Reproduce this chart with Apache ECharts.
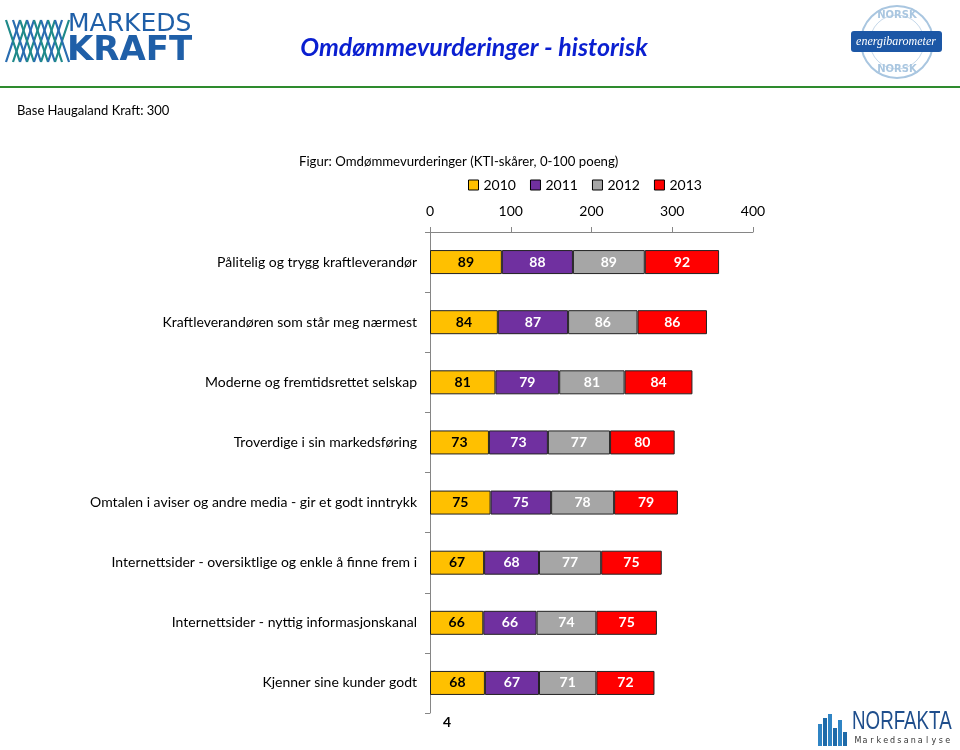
<!DOCTYPE html>
<html><head><meta charset="utf-8">
<script src="https://cdn.jsdelivr.net/npm/echarts@6/dist/echarts.min.js"></script>
<style>html,body{margin:0;padding:0;background:#fff}#c{width:960px;height:750px}</style>
</head><body><div id="c"></div>
<script>
const categories = [
  "Pålitelig og trygg kraftleverandør",
  "Kraftleverandøren som står meg nærmest",
  "Moderne og fremtidsrettet selskap",
  "Troverdige i sin markedsføring",
  "Omtalen i aviser og andre media - gir et godt inntrykk",
  "Internettsider - oversiktlige og enkle å finne frem i",
  "Internettsider - nyttig informasjonskanal",
  "Kjenner sine kunder godt"
];
const seriesNames = ["2010", "2011", "2012", "2013"];
const v2010 = [89, 84, 81, 73, 75, 67, 66, 68];
const v2011 = [88, 87, 79, 73, 75, 68, 66, 67];
const v2012 = [89, 86, 81, 77, 78, 77, 74, 71];
const v2013 = [92, 86, 84, 80, 79, 75, 75, 72];
const xTicks = [0, 100, 200, 300, 400];

const colors = ["#FFC000", "#7030A0", "#A6A6A6", "#FF0000"];
const labelColors = ["#000000", "#ffffff", "#ffffff", "#ffffff"];
const values = [v2010, v2011, v2012, v2013];
const FONT = "Lato, 'Open Sans', sans-serif";

const chart = echarts.init(document.getElementById('c'), null, {renderer: 'canvas'});

// Logo graphics
const logoLines = [];
for (let i = 0; i < 8; i++) {
  const x0 = 6 + i * 7;
  logoLines.push({type:'line', shape:{x1:x0, y1:62, x2:x0+14, y2:20}, style:{stroke: i%2? '#1f8a8a':'#2a6db0', lineWidth:2.2}});
  logoLines.push({type:'line', shape:{x1:x0+14, y1:62, x2:x0, y2:20}, style:{stroke: i%2? '#2a6db0':'#1f8a8a', lineWidth:2.2}});
}

const norfaktaBars = [];
const bh = [22, 28, 32, 18, 26, 14];
for (let i = 0; i < bh.length; i++) {
  norfaktaBars.push({type:'rect', shape:{x:818 + i*5, y:746 - bh[i], width:4, height:bh[i]}, style:{fill: i%2 ? '#1e6aa8' : '#2f84c4'}});
}
const subLetters = [];
const sub = 'Markedsanalyse';
for (let i = 0; i < sub.length; i++) {
  subLetters.push({type:'text', style:{x: 858 + i*6.9, y: 741, text: sub[i], fill:'#333', font:'8px "DejaVu Sans", sans-serif', align:'center', verticalAlign:'middle'}});
}

chart.setOption({
  animation: false,
  textStyle: {fontFamily: FONT},
  color: colors,
  title: [
    {text: 'Figur: Omdømmevurderinger (KTI-skårer, 0-100 poeng)', left: 294, top: 150,
     textStyle: {fontFamily: FONT, fontSize: 13.2, fontWeight: 'normal', color: '#000'}},
  ],
  legend: {
    data: seriesNames, top: 173, left: 463,
    itemWidth: 10, itemHeight: 10, itemGap: 14,
    icon: 'rect',
    textStyle: {fontFamily: FONT, fontSize: 14, color: '#000'},
    itemStyle: {borderColor: '#000', borderWidth: 1}
  },
  grid: {left: 430, right: 207, top: 232, bottom: 37, containLabel: false},
  xAxis: {
    type: 'value', position: 'top', min: 0, max: 400, interval: 100,
    axisLine: {show: true, lineStyle: {color: '#868686'}},
    axisTick: {show: true, length: 5, lineStyle: {color: '#868686'}},
    splitLine: {show: false},
    axisLabel: {fontFamily: FONT, fontSize: 14, color: '#000', margin: 14,
      formatter: v => xTicks.includes(v) ? String(v) : ''}
  },
  yAxis: {
    type: 'category', data: categories, inverse: true,
    axisLine: {show: true, lineStyle: {color: '#868686'}},
    axisTick: {show: true, length: 5, lineStyle: {color: '#868686'}},
    axisLabel: {fontFamily: FONT, fontSize: 14, color: '#000', margin: 13}
  },
  series: seriesNames.map((n, i) => ({
    name: n, type: 'bar', stack: 'all', barWidth: 24,
    data: values[i],
    itemStyle: {color: colors[i], borderColor: '#222', borderWidth: 1},
    label: {show: true, position: 'inside', fontFamily: FONT, fontSize: 14, fontWeight: 'bold', color: labelColors[i]}
  })),
  graphic: [
    // header green line
    {type:'rect', shape:{x:0, y:86, width:960, height:2}, style:{fill:'#2e8b2e'}},
    // Markeds Kraft logo
    {type:'group', children: logoLines},
    {type:'text', style:{x:68, y:12, text:'MARKEDS', fill:'#1f5fa8', font:'25px "DejaVu Sans", sans-serif'}},
    {type:'text', style:{x:67, y:34, text:'KRAFT', fill:'#1f5fa8', font:'bold 34px "DejaVu Sans", sans-serif'}},
    // page title
    {type:'text', style:{x:474, y:48, text:'Omdømmevurderinger - historisk', fill:'#0a1fd0', font:'italic bold 25px Lato, sans-serif', align:'center', verticalAlign:'middle', shadowColor:'rgba(0,0,0,0.25)', shadowBlur:2, shadowOffsetX:1, shadowOffsetY:1}},
    // energibarometer logo
    {type:'circle', shape:{cx:897, cy:42, r:36}, style:{fill:'#fff', stroke:'#a9c6e0', lineWidth:2}},
    {type:'circle', shape:{cx:897, cy:42, r:27}, style:{fill:'none', stroke:'#c5d8ea', lineWidth:1}},
    {type:'text', style:{x:897, y:15, text:'NORSK', fill:'#a9c6e0', font:'bold 10px "DejaVu Sans", sans-serif', align:'center', verticalAlign:'middle'}},
    {type:'text', style:{x:897, y:69, text:'NORSK', fill:'#a9c6e0', font:'bold 10px "DejaVu Sans", sans-serif', align:'center', verticalAlign:'middle'}},
    {type:'rect', shape:{x:851, y:31, width:91, height:21, r:3}, style:{fill:'#1c57a6'}},
    {type:'text', style:{x:896, y:42, text:'energibarometer', fill:'#fff', font:'italic 12px "Liberation Serif", serif', align:'center', verticalAlign:'middle'}},
    // base text
    {type:'text', style:{x:17, y:111, text:'Base Haugaland Kraft: 300', fill:'#000', font:'13px Lato, sans-serif', verticalAlign:'middle'}},
    // page number
    {type:'text', style:{x:443, y:722, text:'4', fill:'#000', font:'bold 14px Lato, sans-serif', verticalAlign:'middle'}},
    // Norfakta logo
    {type:'group', children: norfaktaBars},
    {type:'text', x:852, y:710, scaleX:0.75, style:{x:0, y:0, text:'NORFAKTA', fill:'#1f4e8c', font:'25px "Liberation Sans", sans-serif'}},
    {type:'group', children: subLetters}
  ]
});
</script>
</body></html>
